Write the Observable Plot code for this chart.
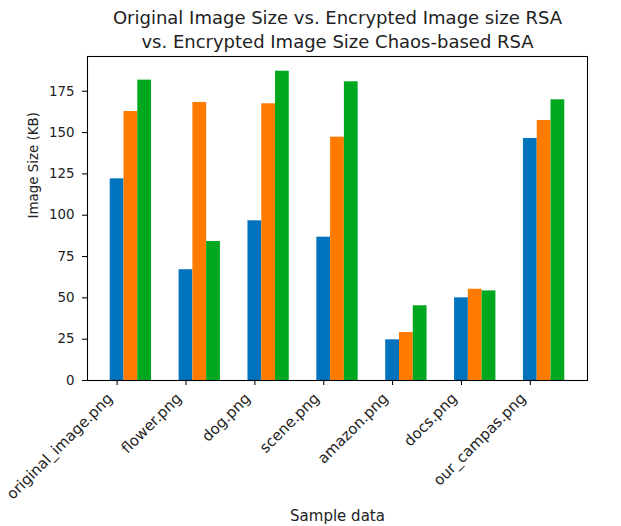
<!DOCTYPE html>
<html>
<head>
<meta charset="utf-8">
<script src="https://cdn.jsdelivr.net/npm/d3@7"></script>
<script src="https://cdn.jsdelivr.net/npm/@observablehq/plot@0.6"></script>
<style>
  html, body { margin: 0; padding: 0; background: #fff; }
  #chart svg { display: block; }
</style>
</head>
<body>
<div id="chart"></div>
<script>
const categories = ["original_image.png", "flower.png", "dog.png", "scene.png", "amazon.png", "docs.png", "our_campas.png"];
const originalSize = [122, 67, 96.6, 86.7, 24.6, 50, 146.4];
const rsaSize = [162.7, 168.2, 167.4, 147.2, 29, 55.2, 157.3];
const chaosRsaSize = [181.7, 84.1, 187.1, 180.7, 45.2, 54.2, 169.8];
const seriesNames = ["Original Image Size", "Encrypted Image size RSA", "Encrypted Image Size Chaos-based RSA"];
const seriesColors = ["#0173bd", "#ff7b00", "#00a81f"];
const yTicks = [0, 25, 50, 75, 100, 125, 150, 175];
const titleText = "Original Image Size vs. Encrypted Image size RSA\nvs. Encrypted Image Size Chaos-based RSA";

const seriesValues = [originalSize, rsaSize, chaosRsaSize];
const barWidth = 0.2;
const rows = categories.flatMap((name, i) =>
  seriesValues.map((arr, s) => ({
    name,
    series: seriesNames[s],
    value: arr[i],
    x1: i + s * barWidth - barWidth / 2,
    x2: i + s * barWidth + barWidth / 2
  }))
);
const tickIdx = categories.map((_, i) => i);
const font = "DejaVu Sans, sans-serif";

const chart = Plot.plot({
  width: 621,
  height: 526,
  marginLeft: 87,
  marginRight: 34,
  marginTop: 56,
  marginBottom: 146,
  style: { fontFamily: font, background: "#fff", color: "#000" },
  x: { domain: [-0.43, 6.83] },
  y: { domain: [0, 196] },
  color: { domain: seriesNames, range: seriesColors },
  marks: [
    Plot.rectY(rows, { x1: "x1", x2: "x2", y1: 0, y2: "value", fill: "series" }),
    Plot.frame({ stroke: "#000", strokeWidth: 1.07 }),
    Plot.axisY({ ticks: yTicks, tickSize: 5, tickPadding: 8, fontSize: 13.4, label: null, stroke: "#000", strokeWidth: 1.07, fill: "#222" }),
    Plot.axisX({ ticks: tickIdx, tickSize: 5, tickFormat: () => "", label: null, stroke: "#000", strokeWidth: 1.07 }),
    Plot.text(tickIdx, { x: d => d, text: d => categories[d], frameAnchor: "bottom", rotate: -45, textAnchor: "end", lineAnchor: "middle", dx: -7, dy: 15.5, fontSize: 14.9, fill: "#222" }),
    Plot.text([titleText], { frameAnchor: "top", lineAnchor: "bottom", dy: -9, fontSize: 18, lineHeight: 1.3, fill: "#222" }),
    Plot.text(["Image Size (KB)"], { frameAnchor: "left", dx: -54, rotate: -90, lineAnchor: "middle", fontSize: 13.4, fill: "#222" }),
    Plot.text(["Sample data"], { frameAnchor: "bottom", dy: 136, lineAnchor: "middle", fontSize: 15, fill: "#222" })
  ]
});
document.getElementById("chart").appendChild(chart);
</script>
</body>
</html>
